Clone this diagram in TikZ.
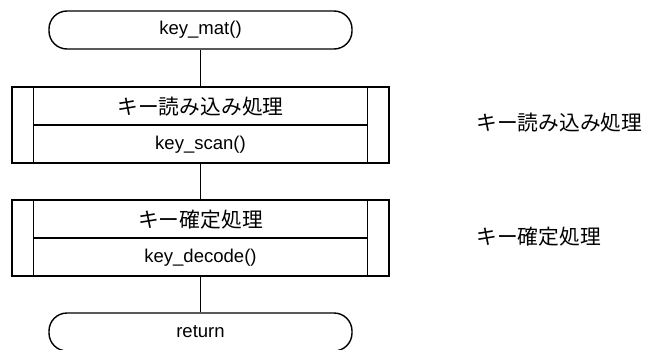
\documentclass[tikz,border=0pt]{standalone}
\usepackage{fontspec}
\setmainfont{Liberation Sans}
\newfontfamily\jp{Noto Sans CJK JP}[Scale=1.12]
\begin{document}
\begin{tikzpicture}[x=0.75pt,y=-0.75pt,
  every node/.style={font=\fontsize{13.9}{16}\selectfont, inner sep=0pt},
  lw/.style={line width=1.05pt},
  term/.style={lw, draw, rounded corners=13.5pt, minimum width=227.25pt, minimum height=28.5pt},
  procbox/.style={lw, draw, minimum width=282.75pt, minimum height=57pt},
  conn/.style={lw}]
\useasboundingbox (0,0) rectangle (648,349);
\node[term] (start) at (200.5,30) {};
\node (starttxt) at (200.5,30) {key\_mat()};
\node[procbox] (p1) at (200.5,125) {};
\node[procbox] (p2) at (200.5,238) {};
\node[term] (ret) at (200.5,332) {};
\node (rettxt) at (200.5,332) {return};
% inner lines of boxes
\foreach \b in {p1,p2}{
  \draw[lw] ([xshift=16.5pt]\b.north west) -- ([xshift=16.5pt]\b.south west);
  \draw[lw] ([xshift=-16.5pt]\b.north east) -- ([xshift=-16.5pt]\b.south east);
  \draw[lw] ([xshift=16.5pt]\b.west) -- ([xshift=-16.5pt]\b.east);
}
\node (p1a) at (200.5,106.5) {\jp キー読み込み処理};
\node (p1b) at (200.5,144.5) {key\_scan()};
\node (p2a) at (200.5,219.5) {\jp キー確定処理};
\node (p2b) at (200.5,257.5) {key\_decode()};
\draw[conn] (start) -- (p1);
\draw[conn] (p1) -- (p2);
\draw[conn] (p2) -- (ret);
\node[anchor=west] (lab1) at (476,123) {\jp キー読み込み処理};
\node[anchor=west] (lab2) at (476,237) {\jp キー確定処理};
\end{tikzpicture}
\end{document}
